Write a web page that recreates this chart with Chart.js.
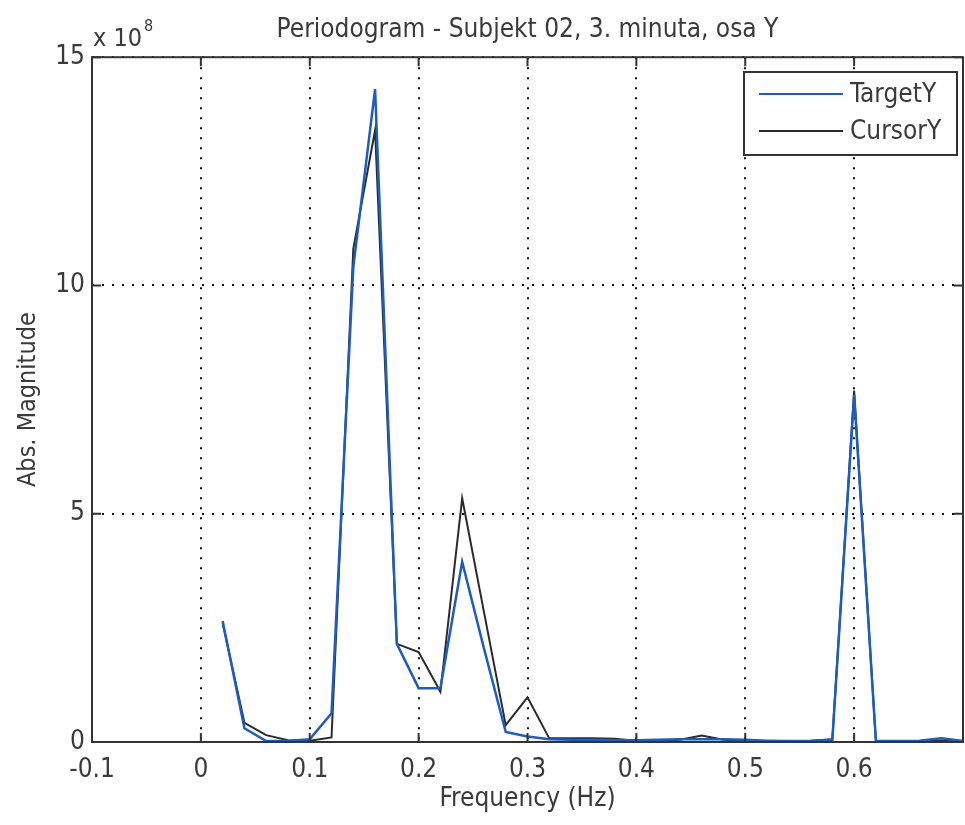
<!DOCTYPE html>
<html>
<head>
<meta charset="utf-8">
<script src="https://cdn.jsdelivr.net/npm/chart.js@4/dist/chart.umd.min.js"></script>
<style>
  html, body { margin: 0; padding: 0; background: #fff; }
  #wrap { width: 965px; height: 825px; }
</style>
</head>
<body>
<div id="wrap"><canvas id="periodogram" width="965" height="825"></canvas></div>
<script>
// values are in units of 10^8
const exponent = 8;
const freq = [0.02, 0.04, 0.06, 0.08, 0.10, 0.12, 0.14, 0.16, 0.18, 0.20,
              0.22, 0.24, 0.26, 0.28, 0.30, 0.32, 0.34, 0.36, 0.38, 0.40,
              0.42, 0.44, 0.46, 0.48, 0.50, 0.52, 0.54, 0.56, 0.58, 0.60,
              0.62, 0.64, 0.66, 0.68, 0.70];
const targetY = [2.65, 0.30, 0.02, 0.02, 0.06, 0.63, 10.4, 14.3, 2.15, 1.18,
                 1.18, 3.95, 2.05, 0.22, 0.12, 0.06, 0.05, 0.05, 0.04, 0.04,
                 0.05, 0.06, 0.06, 0.06, 0.05, 0.03, 0.02, 0.02, 0.05, 7.6,
                 0.02, 0.02, 0.03, 0.08, 0.02];
const cursorY = [2.6, 0.42, 0.15, 0.04, 0.03, 0.10, 10.8, 13.4, 2.15, 1.97,
                 1.10, 5.34, 2.85, 0.37, 0.98, 0.08, 0.08, 0.08, 0.07, 0.03,
                 0.02, 0.05, 0.14, 0.05, 0.02, 0.02, 0.02, 0.03, 0.06, 7.7,
                 0.02, 0.02, 0.02, 0.03, 0.02];
const xTicks = [-0.1, 0, 0.1, 0.2, 0.3, 0.4, 0.5, 0.6];
const yTicks = [0, 5, 10, 15];

const FONT = "'Liberation Sans Narrow', 'DejaVu Sans Condensed', Arial, sans-serif";
const TEXT = '#3a3a3a';

function pairs(ys) {
  return freq.map((f, i) => ({ x: f, y: ys[i] }));
}

// MATLAB-like box, inward ticks, exponent label and legend
const matlabAxes = {
  id: 'matlabAxes',
  afterDatasetsDraw(chart) {
    const { ctx, chartArea: a, scales } = chart;
    ctx.save();
    ctx.strokeStyle = '#333';
    ctx.lineWidth = 2;
    ctx.strokeRect(a.left, a.top, a.right - a.left, a.bottom - a.top);

    ctx.lineWidth = 2;
    ctx.beginPath();
    xTicks.forEach(v => {
      const px = scales.x.getPixelForValue(v);
      ctx.moveTo(px, a.bottom); ctx.lineTo(px, a.bottom - 9);
      ctx.moveTo(px, a.top); ctx.lineTo(px, a.top + 9);
    });
    yTicks.forEach(v => {
      const py = scales.y.getPixelForValue(v);
      ctx.moveTo(a.left, py); ctx.lineTo(a.left + 9, py);
      ctx.moveTo(a.right, py); ctx.lineTo(a.right - 9, py);
    });
    ctx.stroke();

    // x 10^8
    ctx.fillStyle = TEXT;
    ctx.textBaseline = 'alphabetic';
    ctx.textAlign = 'left';
    ctx.font = '25px ' + FONT;
    ctx.fillText('x 10', a.left + 1, 46);
    const w = ctx.measureText('x 10').width;
    ctx.font = '16px ' + FONT;
    ctx.fillText(String(exponent), a.left + 3 + w, 31);

    // legend
    const lx = 744, ly = 72, lw = 213, lh = 83;
    ctx.fillStyle = '#fff';
    ctx.fillRect(lx, ly, lw, lh);
    ctx.strokeStyle = '#333';
    ctx.lineWidth = 2;
    ctx.strokeRect(lx, ly, lw, lh);
    ctx.font = '26px ' + FONT;
    ctx.textBaseline = 'middle';
    chart.data.datasets.forEach((ds, i) => {
      const y = ly + 22 + i * 37;
      ctx.strokeStyle = ds.borderColor;
      ctx.lineWidth = 2;
      ctx.beginPath();
      ctx.moveTo(lx + 15, y); ctx.lineTo(lx + 99, y);
      ctx.stroke();
      ctx.fillStyle = TEXT;
      ctx.fillText(ds.label, lx + 106, y + 1);
    });
    ctx.restore();
  }
};

new Chart(document.getElementById('periodogram'), {
  type: 'line',
  data: {
    datasets: [
      {
        label: 'TargetY',
        data: pairs(targetY),
        borderColor: '#1f5cbf',
        borderWidth: 2.5,
        pointRadius: 0,
        tension: 0,
        order: 1
      },
      {
        label: 'CursorY',
        data: pairs(cursorY),
        borderColor: '#2b2b2b',
        borderWidth: 2,
        pointRadius: 0,
        tension: 0,
        order: 2
      }
    ]
  },
  options: {
    responsive: false,
    animation: false,
    layout: { padding: { left: 0, right: 2, top: 0, bottom: 0 } },
    plugins: {
      legend: { display: false },
      tooltip: { enabled: false },
      title: {
        display: true,
        text: 'Periodogram - Subjekt 02, 3. minuta, osa Y',
        fullSize: false,
        color: TEXT,
        font: { family: FONT, size: 26, weight: 'normal' },
        padding: { top: 15, bottom: 11 }
      }
    },
    scales: {
      x: {
        type: 'linear',
        min: -0.1,
        max: 0.7,
        afterBuildTicks(scale) {
          scale.ticks = [...xTicks, 0.7].map(v => ({ value: v }));
        },
        afterFit(scale) {
          scale.height = 83;
          scale.paddingLeft = 0;
          scale.paddingRight = 0;
        },
        border: { display: false, dash: [2, 8] },
        grid: {
          color: '#111',
          lineWidth: 2,
          drawTicks: false
        },
        ticks: {
          color: TEXT,
          padding: 13,
          maxRotation: 0,
          autoSkip: false,
          font: { family: FONT, size: 26 },
          callback: v => (v >= 0.65 ? '' : String(Math.round(v * 10) / 10))
        },
        title: {
          display: true,
          text: 'Frequency (Hz)',
          color: TEXT,
          font: { family: FONT, size: 26 },
          padding: { top: 0, bottom: 10 }
        }
      },
      y: {
        type: 'linear',
        min: 0,
        max: 15,
        afterBuildTicks(scale) {
          scale.ticks = yTicks.map(v => ({ value: v }));
        },
        afterFit(scale) {
          scale.width = 92;
        },
        border: { display: false, dash: [2, 8] },
        grid: {
          color: '#111',
          lineWidth: 2,
          drawTicks: false
        },
        ticks: {
          color: TEXT,
          padding: 7,
          font: { family: FONT, size: 26 }
        },
        title: {
          display: true,
          text: 'Abs. Magnitude',
          color: TEXT,
          font: { family: FONT, size: 25 },
          padding: { top: 13, bottom: 0 }
        }
      }
    }
  },
  plugins: [matlabAxes]
});
</script>
</body>
</html>
